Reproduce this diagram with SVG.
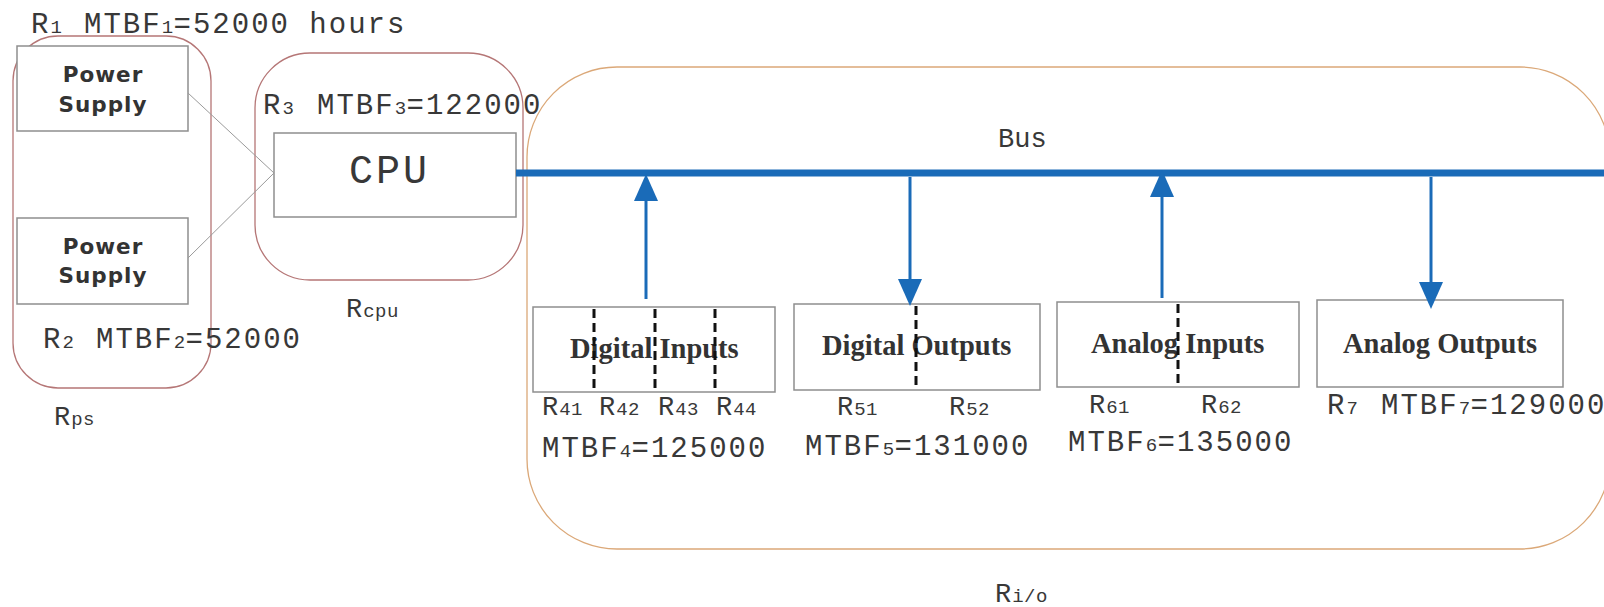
<svg xmlns="http://www.w3.org/2000/svg" width="1604" height="607" viewBox="0 0 1604 607">
<defs>
<style>
.mono{font-family:"Liberation Mono","DejaVu Sans Mono",monospace;fill:#383838}
.big{font-size:29px;letter-spacing:2px}
.sub{font-size:19px;letter-spacing:0.5px}
.rl{font-size:27px;letter-spacing:1px}
.ps{font-family:"DejaVu Sans",sans-serif;font-weight:bold;font-size:21.5px;fill:#333;letter-spacing:1px}
.mod{font-family:"Liberation Serif","Times New Roman",serif;font-weight:bold;font-size:28.5px;fill:#333}
.box{fill:#fff;stroke:#8e8e8e;stroke-width:1.5}
.grpR{fill:none;stroke:#b57676;stroke-width:1.3}
.grpO{fill:none;stroke:#dba878;stroke-width:1.3}
.dash{stroke:#111;stroke-width:3;stroke-dasharray:9 5}
.arr{stroke:#1a6bb8;stroke-width:3;fill:none;marker-end:url(#ah)}
</style>
<marker id="ah" viewBox="0 0 27 24" refX="0" refY="12" markerWidth="27" markerHeight="24" markerUnits="userSpaceOnUse" orient="auto">
<path d="M0,0 L27,12 L0,24 Z" fill="#1a6bb8"/>
</marker>
</defs>
<rect width="1604" height="607" fill="#fff"/>

<g id="group-ps">
<rect class="grpR" x="13" y="36" width="198" height="352" rx="45"/>
<text class="mono big" y="33"><tspan x="31">R</tspan><tspan class="sub">1</tspan><tspan x="84">MTBF</tspan><tspan class="sub">1</tspan><tspan>=52000 hours</tspan></text>
<text class="mono big" y="348"><tspan x="43">R</tspan><tspan class="sub">2</tspan><tspan x="96">MTBF</tspan><tspan class="sub">2</tspan><tspan>=52000</tspan></text>
<text class="mono rl" y="425"><tspan x="54">R</tspan><tspan class="sub">ps</tspan></text>
</g>

<g id="node-ps1">
<rect class="box" x="17" y="46" width="171" height="85"/>
<text class="ps" x="103" y="82" text-anchor="middle">Power</text>
<text class="ps" x="103" y="112" text-anchor="middle">Supply</text>
</g>

<g id="node-ps2">
<rect class="box" x="17" y="218" width="171" height="86"/>
<text class="ps" x="103" y="254" text-anchor="middle">Power</text>
<text class="ps" x="103" y="283" text-anchor="middle">Supply</text>
</g>

<g id="group-cpu">
<rect class="grpR" x="255" y="53" width="268" height="227" rx="55"/>
<text class="mono big" y="114"><tspan x="263">R</tspan><tspan class="sub">3</tspan><tspan x="317">MTBF</tspan><tspan class="sub">3</tspan><tspan>=122000</tspan></text>
<text class="mono rl" y="317"><tspan x="346">R</tspan><tspan class="sub">cpu</tspan></text>
</g>

<g id="node-cpu">
<rect class="box" x="274" y="133" width="242" height="84"/>
<text class="mono" x="349" y="183" font-size="40" letter-spacing="3">CPU</text>
</g>

<g id="group-io">
<rect class="grpO" x="527" y="67" width="1083" height="482" rx="90"/>
<text class="mono" x="998" y="147" font-size="27">Bus</text>
<text class="mono rl" y="602"><tspan x="995">R</tspan><tspan class="sub">i/o</tspan></text>
</g>

<g id="node-di">
<rect class="box" x="533" y="307" width="242" height="85"/>
<text class="mod" x="570" y="358">Digital Inputs</text>
<line class="dash" x1="594" y1="309" x2="594" y2="392"/>
<line class="dash" x1="655" y1="309" x2="655" y2="392"/>
<line class="dash" x1="715" y1="309" x2="715" y2="392"/>
<text class="mono rl" y="415"><tspan x="542">R</tspan><tspan class="sub">41</tspan><tspan x="599">R</tspan><tspan class="sub">42</tspan><tspan x="658">R</tspan><tspan class="sub">43</tspan><tspan x="716">R</tspan><tspan class="sub">44</tspan></text>
<text class="mono big" y="457"><tspan x="542">MTBF</tspan><tspan class="sub">4</tspan><tspan>=125000</tspan></text>
</g>

<g id="node-do">
<rect class="box" x="794" y="304" width="246" height="86"/>
<text class="mod" x="822" y="355">Digital Outputs</text>
<line class="dash" x1="916" y1="306" x2="916" y2="390"/>
<text class="mono rl" y="415"><tspan x="837">R</tspan><tspan class="sub">51</tspan><tspan x="949">R</tspan><tspan class="sub">52</tspan></text>
<text class="mono big" y="455"><tspan x="805">MTBF</tspan><tspan class="sub">5</tspan><tspan>=131000</tspan></text>
</g>

<g id="node-ai">
<rect class="box" x="1057" y="302" width="242" height="85"/>
<text class="mod" x="1091" y="353">Analog Inputs</text>
<line class="dash" x1="1178" y1="304" x2="1178" y2="387"/>
<text class="mono rl" y="413"><tspan x="1089">R</tspan><tspan class="sub">61</tspan><tspan x="1201">R</tspan><tspan class="sub">62</tspan></text>
<text class="mono big" y="451"><tspan x="1068">MTBF</tspan><tspan class="sub">6</tspan><tspan>=135000</tspan></text>
</g>

<g id="node-ao">
<rect class="box" x="1317" y="300" width="246" height="87"/>
<text class="mod" x="1343" y="353">Analog Outputs</text>
<text class="mono big" y="414"><tspan x="1327">R</tspan><tspan class="sub">7</tspan><tspan x="1381">MTBF</tspan><tspan class="sub">7</tspan><tspan>=129000</tspan></text>
</g>

<g id="connectors">
<line x1="188" y1="93" x2="274" y2="173" stroke="#9a9a9a" stroke-width="1"/>
<line x1="188" y1="258" x2="274" y2="173" stroke="#9a9a9a" stroke-width="1"/>
<line x1="516" y1="173" x2="1604" y2="173" stroke="#1a6bb8" stroke-width="7"/>
<line class="arr" x1="646" y1="299" x2="646" y2="201"/>
<line class="arr" x1="910" y1="177" x2="910" y2="279"/>
<line class="arr" x1="1162" y1="298" x2="1162" y2="197"/>
<line class="arr" x1="1431" y1="177" x2="1431" y2="282"/>
</g>
</svg>
